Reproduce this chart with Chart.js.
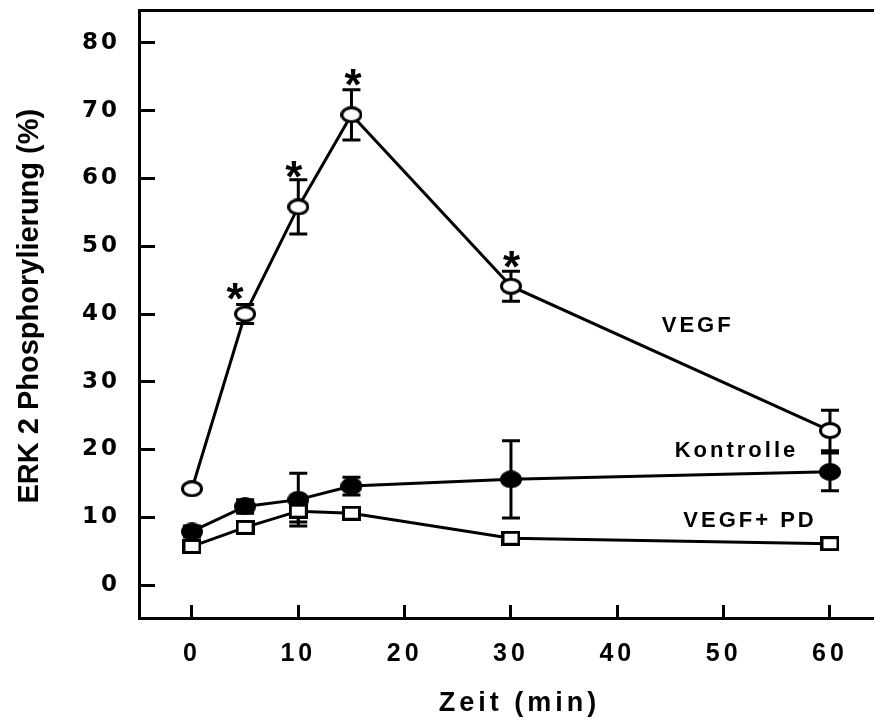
<!DOCTYPE html>
<html><head><meta charset="utf-8">
<script src="https://cdn.jsdelivr.net/npm/chart.js@4.4.1/dist/chart.umd.min.js"></script>
<style>html,body{margin:0;padding:0;background:#fff;}canvas{display:block;}</style>
</head><body>
<canvas id="c" width="874" height="721"></canvas>
<script>
// ---- data ----
const times = [0, 5, 10, 15, 30, 60];
const vegf = [14.2, 40.0, 55.8, 69.4, 44.1, 22.8];
const vegfErr = [0, 1.4, 4.0, 3.7, 2.2, 3.0];
const kontrolle = [7.9, 11.6, 12.6, 14.6, 15.6, 16.7];
const kontrolleErr = [0.8, 1.0, 3.9, 1.3, 5.7, 2.8];
const vegfPd = [5.7, 8.5, 10.9, 10.6, 6.9, 6.1];
const vegfPdErr = [0, 0, 1.6, 0, 0, 0];
const significantTimes = [5, 10, 15, 30];
const xTicks = [0, 10, 20, 30, 40, 50, 60];
const yTicks = [0, 10, 20, 30, 40, 50, 60, 70, 80];
const seriesNames = ['VEGF', 'Kontrolle', 'VEGF+ PD'];
const xTitle = 'Zeit (min)';
const yTitle = 'ERK 2 Phosphorylierung (%)';

// ---- styles ----
const FONT = 'Liberation Sans';
const starOffsets = [[-9.5, -13.5], [-4, -10], [2, -12], [1, -12]]; // px offsets from error cap
const labelPlace = [ // label centres in axis units
  {x: 47.4, y: 38.4},
  {x: 51.1, y: 20.1},
  {x: 52.3, y: 9.7}
];
const titleStyle = {
  x: {font: 'bold 27px "' + FONT + '"', spacing: '4px', cx: 517, cy: 704},
  y: {font: 'bold 29px "' + FONT + '"', spacing: '0px', cx: 30, cy: 306}
};

function makeMarker(kind) {
  const c = document.createElement('canvas');
  let w, h;
  if (kind === 'open') { w = 22; h = 17; }
  else if (kind === 'filled') { w = 22; h = 18; }
  else { w = 19; h = 15; }
  c.width = w; c.height = h;
  const g = c.getContext('2d');
  g.lineWidth = 3; g.strokeStyle = '#000';
  if (kind === 'open') {
    g.beginPath(); g.ellipse(w/2, h/2, w/2 - 1.5, h/2 - 1.5, 0, 0, Math.PI*2);
    g.fillStyle = '#fff'; g.fill(); g.stroke();
  } else if (kind === 'filled') {
    g.beginPath(); g.ellipse(w/2, h/2, w/2, h/2, 0, 0, Math.PI*2);
    g.fillStyle = '#000'; g.fill();
  } else {
    g.fillStyle = '#fff'; g.fillRect(1.5, 1.5, w-3, h-3);
    g.strokeRect(1.5, 1.5, w-3, h-3);
  }
  return c;
}

const pts = arr => times.map((t, i) => ({x: t, y: arr[i]}));

const errorBars = {
  id: 'errorBars',
  beforeDatasetsDraw(chart) {
    const {ctx, scales: {x, y}} = chart;
    ctx.save();
    ctx.strokeStyle = '#000'; ctx.lineWidth = 3; ctx.lineCap = 'butt';
    chart.data.datasets.forEach(ds => {
      ds.values.forEach((v, i) => {
        const e = ds.errors[i];
        if (!e) return;
        const px = x.getPixelForValue(times[i]);
        const t = y.getPixelForValue(v + e), b = y.getPixelForValue(v - e);
        ctx.beginPath();
        ctx.moveTo(px, t); ctx.lineTo(px, b);
        ctx.moveTo(px - 9, t); ctx.lineTo(px + 9, t);
        ctx.moveTo(px - 9, b); ctx.lineTo(px + 9, b);
        ctx.stroke();
      });
    });
    ctx.restore();
  }
};

function drawCentered(ctx, text, cx, cy) {
  const m = ctx.measureText(text);
  const w = m.actualBoundingBoxRight + m.actualBoundingBoxLeft;
  const h = m.actualBoundingBoxAscent + m.actualBoundingBoxDescent;
  ctx.fillText(text, cx - w/2 + m.actualBoundingBoxLeft, cy - h/2 + m.actualBoundingBoxAscent);
}

const annotations = {
  id: 'annotations',
  afterDatasetsDraw(chart) {
    const {ctx, scales: {x, y}} = chart;
    ctx.save();
    ctx.fillStyle = '#000';
    ctx.textAlign = 'left'; ctx.textBaseline = 'alphabetic';
    // asterisks
    ctx.font = 'bold 44px "' + FONT + '"';
    significantTimes.forEach((t, k) => {
      const i = times.indexOf(t);
      const px = x.getPixelForValue(t);
      const py = y.getPixelForValue(vegf[i] + vegfErr[i]);
      drawCentered(ctx, '*', px + starOffsets[k][0], py + starOffsets[k][1]);
    });
    // series labels
    ctx.font = 'bold 22px "' + FONT + '"';
    ctx.letterSpacing = '3px';
    seriesNames.forEach((n, k) => {
      drawCentered(ctx, n, x.getPixelForValue(labelPlace[k].x), y.getPixelForValue(labelPlace[k].y));
    });
    ctx.restore();
  },
  afterDraw(chart) {
    const ctx = chart.ctx;
    ctx.save();
    ctx.fillStyle = '#000';
    ctx.textAlign = 'left'; ctx.textBaseline = 'alphabetic';
    // x axis title
    ctx.font = titleStyle.x.font; ctx.letterSpacing = titleStyle.x.spacing;
    drawCentered(ctx, xTitle, titleStyle.x.cx, titleStyle.x.cy);
    // y axis title (rotated)
    ctx.font = titleStyle.y.font; ctx.letterSpacing = titleStyle.y.spacing;
    ctx.translate(titleStyle.y.cx, titleStyle.y.cy);
    ctx.rotate(-Math.PI / 2);
    drawCentered(ctx, yTitle, 0, 0);
    ctx.restore();
  }
};

const spacing = {x: '4px', y: '3px'};
const spacingPlugin = {
  id: 'spacing',
  afterLayout(chart) {
    Object.keys(spacing).forEach(id => {
      const s = chart.scales[id];
      if (!s || s._sp) return;
      const dl = s.drawLabels;
      s.drawLabels = function (a) { const c = this.ctx; c.save(); c.letterSpacing = spacing[id]; dl.call(this, a); c.restore(); };
      s._sp = true;
    });
  }
};

const noPad = s => { s.paddingLeft = 0; s.paddingRight = 0; s.paddingTop = 0; s.paddingBottom = 0; };
const baseDs = {borderColor: '#000', borderWidth: 3, tension: 0, pointRadius: 8, pointHoverRadius: 8, showLine: true, fill: false, clip: false};

new Chart(document.getElementById('c'), {
  type: 'scatter',
  data: {
    datasets: [
      Object.assign({}, baseDs, {label: seriesNames[0], data: pts(vegf), values: vegf, errors: vegfErr, pointStyle: makeMarker('open'), order: 2}),
      Object.assign({}, baseDs, {label: seriesNames[1], data: pts(kontrolle), values: kontrolle, errors: kontrolleErr, pointStyle: makeMarker('filled'), order: 1}),
      Object.assign({}, baseDs, {label: seriesNames[2], data: pts(vegfPd), values: vegfPd, errors: vegfPdErr, pointStyle: makeMarker('square'), order: 0})
    ]
  },
  options: {
    responsive: false,
    animation: false,
    devicePixelRatio: 1,
    layout: {padding: 0, autoPadding: false},
    plugins: {legend: {display: false}, tooltip: {enabled: false}},
    scales: {
      x: {
        type: 'linear', position: 'bottom', min: -4.98, max: 64.14,
        afterBuildTicks: s => { s.ticks = xTicks.map(v => ({value: v})); },
        afterFit: s => { s.height = 103; noPad(s); },
        grid: {display: true, drawOnChartArea: false, drawTicks: true, tickLength: -13, color: '#000', lineWidth: 3},
        border: {display: true, color: '#000', width: 3},
        ticks: {color: '#000', font: {family: FONT, weight: 'bold', size: 25}, padding: 34, maxRotation: 0, autoSkip: false},
        title: {display: false}
      },
      x2: {
        type: 'linear', position: 'top', display: true,
        afterFit: s => { s.height = 10; noPad(s); },
        grid: {display: false, drawTicks: false},
        ticks: {display: false},
        border: {display: true, color: '#000', width: 3}
      },
      y: {
        type: 'linear', position: 'left', min: -4.87, max: 84.87,
        afterBuildTicks: s => { s.ticks = yTicks.map(v => ({value: v})); },
        afterFit: s => { s.width = 139; noPad(s); },
        grid: {display: true, drawOnChartArea: false, drawTicks: true, tickLength: -16, color: '#000', lineWidth: 3},
        border: {display: true, color: '#000', width: 3},
        ticks: {color: '#000', font: {family: 'DejaVu Sans', weight: 'bold', size: 23}, padding: 35, autoSkip: false},
        title: {display: false}
      }
    }
  },
  plugins: [errorBars, annotations, spacingPlugin]
});
</script>
</body></html>
